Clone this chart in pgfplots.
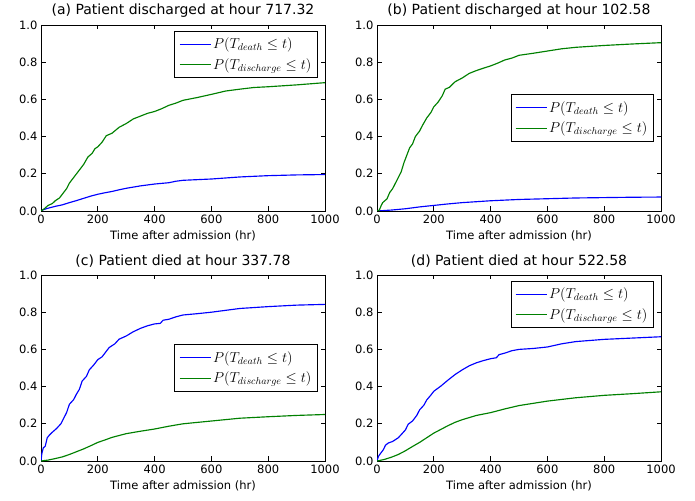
\documentclass[border=0pt]{standalone}
\usepackage{fontspec}
\setmainfont{DejaVu Sans}
\usepackage{pgfplots}
\pgfplotsset{compat=1.18}

\definecolor{mplblue}{rgb}{0,0,1}
\definecolor{mplgreen}{rgb}{0,0.5,0}

\pgfplotsset{
  panel/.style={
    scale only axis,
    width=284pt, height=186pt,
    anchor=south west,
    xmin=0, xmax=1000, ymin=0, ymax=1,
    xtick={0,200,400,600,800,1000},
    ytick={0,0.2,0.4,0.6,0.8,1.0},
    yticklabel style={/pgf/number format/.cd, fixed, fixed zerofill, precision=1},
    /pgf/number format/1000 sep={},
    /pgf/number format/assume math mode=true,
    tick align=inside,
    major tick length=4.5pt,
    minor tick num=0,
    axis line style={line width=0.9pt},
    every tick/.style={line width=0.7pt, black},
    tick label style={font=\fontsize{11.5}{13}\selectfont},
    xlabel={Time after admission (hr)},
    xlabel style={font=\fontsize{11.5}{13}\selectfont, yshift=-1pt},
    title style={font=\fontsize{14}{16}\selectfont, yshift=-2pt},
    legend cell align=left,
    legend image code/.code={\path (0pt,0pt) -- (31pt,0pt);
      \draw[#1] (4pt,0pt) -- (26pt,0pt);},
    legend style={draw=black, line width=0.9pt, fill=white,
      font=\fontsize{14}{16}\selectfont, inner xsep=4pt, inner ysep=5pt,
      row sep=4pt},
    every axis plot/.append style={line width=1.15pt},
  },
}

\begin{document}
\begin{tikzpicture}
\useasboundingbox (0pt,0pt) rectangle (695pt,500pt);

% (a)
\begin{axis}[panel, at={(41pt,289pt)},
  title={(a) Patient discharged at hour 717.32},
  legend style={at={(0.975,0.97)}, anchor=north east}]
\addplot[mplblue] coordinates {
 (0,0) (10,0.008) (25,0.015) (50,0.025) (75,0.033) (100,0.045) (125,0.056)
 (150,0.068) (175,0.08) (200,0.09) (225,0.098) (250,0.105) (275,0.114)
 (300,0.122) (350,0.135) (400,0.145) (450,0.152) (475,0.16) (500,0.165)
 (600,0.172) (700,0.183) (800,0.19) (900,0.194) (1000,0.196)};
\addlegendentry{$P(T_{death} \leq t)$}
\addplot[mplgreen] coordinates {
 (0,0) (10,0.01) (25,0.03) (40,0.04) (50,0.055) (65,0.07) (80,0.1)
 (90,0.12) (100,0.15) (115,0.18) (130,0.21) (150,0.25) (165,0.29)
 (180,0.31) (190,0.335) (200,0.345) (215,0.37) (230,0.405) (250,0.418)
 (275,0.45) (300,0.47) (325,0.495) (350,0.51) (375,0.525) (400,0.535)
 (425,0.55) (450,0.568) (475,0.58) (500,0.595) (550,0.61) (600,0.627)
 (650,0.645) (700,0.655) (750,0.664) (800,0.668) (900,0.678) (1000,0.69)};
\addlegendentry{$P(T_{discharge} \leq t)$}
\end{axis}

% (b)
\begin{axis}[panel, at={(377pt,289pt)},
  title={(b) Patient discharged at hour 102.58},
  legend style={at={(0.975,0.5)}, anchor=east}]
\addplot[mplblue] coordinates {
 (0,0) (50,0.005) (100,0.012) (150,0.022) (200,0.03) (250,0.038)
 (300,0.045) (400,0.055) (500,0.062) (600,0.066) (700,0.07) (800,0.072)
 (900,0.074) (1000,0.075)};
\addlegendentry{$P(T_{death} \leq t)$}
\addplot[mplgreen] coordinates {
 (0,0) (8,0.005) (15,0.03) (20,0.045) (35,0.065) (45,0.1) (55,0.12)
 (65,0.15) (75,0.18) (85,0.21) (95,0.26) (105,0.3) (115,0.34) (125,0.36)
 (135,0.4) (150,0.43) (160,0.46) (175,0.5) (190,0.53) (200,0.56)
 (215,0.585) (230,0.62) (240,0.655) (255,0.665) (275,0.695) (300,0.715)
 (325,0.74) (350,0.755) (375,0.768) (400,0.78) (425,0.795) (450,0.812)
 (475,0.822) (500,0.837) (550,0.848) (600,0.86) (650,0.872) (700,0.88)
 (800,0.89) (900,0.898) (1000,0.905)};
\addlegendentry{$P(T_{discharge} \leq t)$}
\end{axis}

% (c)
\begin{axis}[panel, at={(41pt,39pt)},
  title={(c) Patient died at hour 337.78},
  legend style={at={(0.975,0.5)}, anchor=east}]
\addplot[mplblue] coordinates {
 (0,0) (3,0.04) (8,0.07) (15,0.08) (22,0.125) (30,0.14) (40,0.155)
 (55,0.175) (70,0.2) (80,0.23) (90,0.26) (100,0.305) (115,0.33)
 (125,0.36) (135,0.385) (145,0.43) (160,0.455) (170,0.49) (185,0.515)
 (200,0.545) (215,0.56) (225,0.58) (240,0.61) (260,0.63) (275,0.655)
 (300,0.672) (325,0.695) (350,0.713) (375,0.727) (400,0.737) (420,0.74)
 (430,0.757) (450,0.762) (475,0.775) (500,0.785) (550,0.792) (600,0.8)
 (650,0.81) (700,0.82) (800,0.83) (900,0.838) (1000,0.842)};
\addlegendentry{$P(T_{death} \leq t)$}
\addplot[mplgreen] coordinates {
 (0,0) (25,0.005) (50,0.013) (75,0.022) (100,0.035) (125,0.05)
 (150,0.065) (175,0.082) (200,0.1) (225,0.113) (250,0.127) (300,0.147)
 (350,0.16) (400,0.172) (450,0.187) (500,0.2) (600,0.215) (700,0.23)
 (800,0.238) (900,0.245) (1000,0.25)};
\addlegendentry{$P(T_{discharge} \leq t)$}
\end{axis}

% (d)
\begin{axis}[panel, at={(377pt,39pt)},
  title={(d) Patient died at hour 522.58},
  legend style={at={(0.975,0.97)}, anchor=north east}]
\addplot[mplblue] coordinates {
 (0,0) (5,0.025) (12,0.04) (22,0.06) (30,0.085) (40,0.097) (55,0.105)
 (75,0.125) (90,0.15) (100,0.167) (110,0.198) (125,0.215) (140,0.245)
 (150,0.275) (165,0.3) (175,0.328) (190,0.355) (200,0.375) (225,0.403)
 (250,0.435) (275,0.465) (300,0.49) (325,0.512) (350,0.528) (375,0.54)
 (400,0.55) (420,0.555) (430,0.572) (450,0.58) (475,0.593) (500,0.6)
 (550,0.605) (600,0.613) (650,0.63) (700,0.642) (800,0.654)
 (900,0.661) (1000,0.668)};
\addlegendentry{$P(T_{death} \leq t)$}
\addplot[mplgreen] coordinates {
 (0,0) (25,0.008) (50,0.02) (75,0.035) (100,0.055) (125,0.078)
 (150,0.1) (175,0.125) (200,0.15) (225,0.17) (250,0.19) (275,0.208)
 (300,0.222) (350,0.245) (400,0.26) (450,0.28) (500,0.298) (600,0.322)
 (700,0.34) (800,0.353) (900,0.362) (1000,0.372)};
\addlegendentry{$P(T_{discharge} \leq t)$}
\end{axis}
\end{tikzpicture}
\end{document}
